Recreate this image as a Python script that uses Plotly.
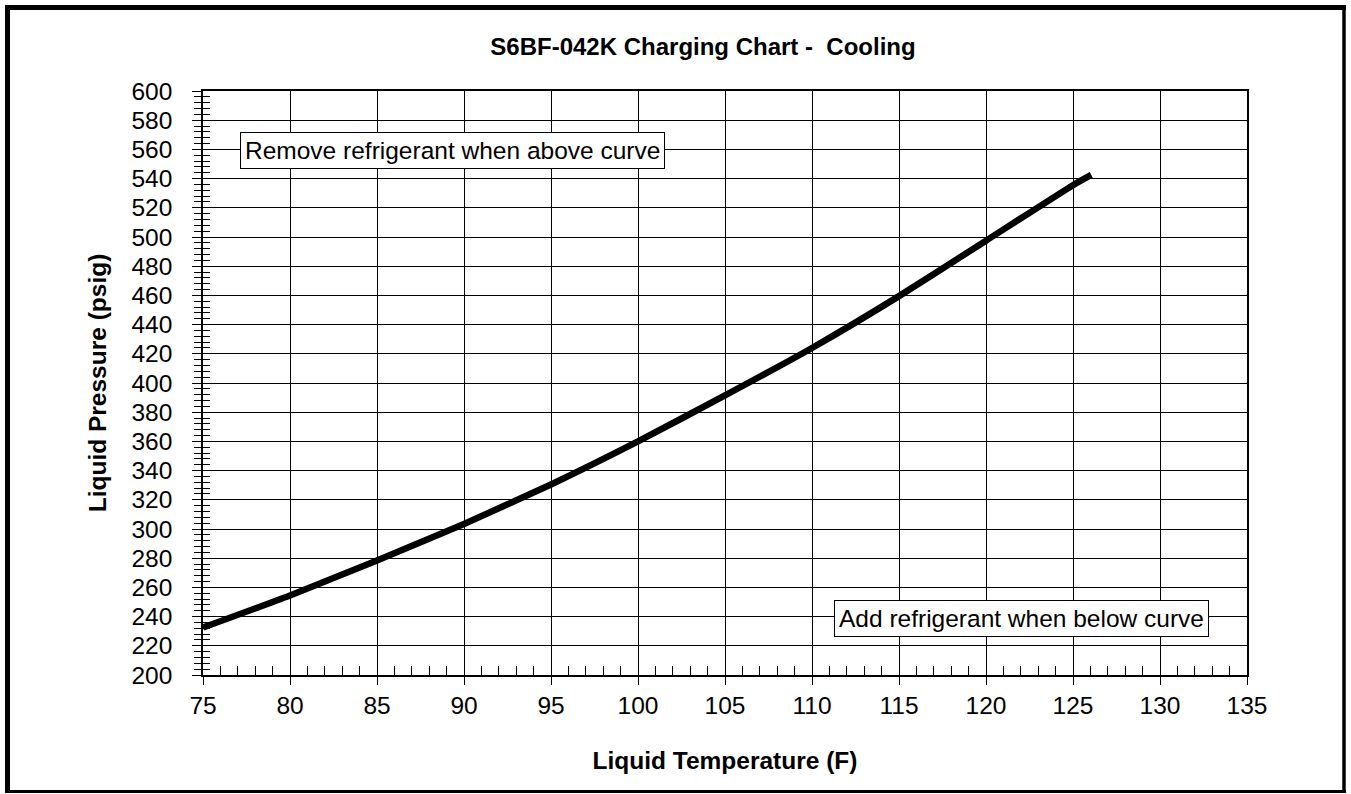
import plotly.graph_objects as go

# ---- data ----
temps = [75, 80, 85, 90, 95, 100, 105, 110, 115, 120, 125, 126.05]
pressures = [232.5, 254.5, 278.5, 303.5, 330.5, 360, 391.5, 424, 459.5, 497.5, 535.5, 542.5]

x_ticks = list(range(75, 136, 5))
y_ticks = list(range(200, 601, 20))

title_text = "S6BF-042K Charging Chart -  Cooling"
x_title = "Liquid Temperature (F)"
y_title = "Liquid Pressure (psig)"
note_above = "Remove refrigerant when above curve"
note_below = "Add refrigerant when below curve"

# ---- layout geometry ----
W, H = 1351, 794
ML, MR, MT, MB = 203, 104, 91, 119
PW, PH = W - ML - MR, H - MT - MB
FONT = "Liberation Sans, Arial, Helvetica, sans-serif"


def px(xpix):
    return (xpix - ML) / PW


def py(ypix):
    return (H - MB - ypix) / PH


fig = go.Figure()
fig.add_trace(go.Scatter(
    x=temps, y=pressures, mode="lines",
    line=dict(color="black", width=6.5, shape="spline", smoothing=0.5),
    showlegend=False, hoverinfo="x+y",
))
# invisible copy so the overlay axes (cross ticks) are drawn
fig.add_trace(go.Scatter(
    x=temps, y=pressures, mode="lines", xaxis="x2", yaxis="y2",
    line=dict(width=0), opacity=0, showlegend=False, hoverinfo="skip",
))

axis_common = dict(showline=True, linecolor="black", linewidth=1.5, mirror=True,
                   zeroline=False, tickcolor="black", tickwidth=1.2)

fig.update_layout(
    width=W, height=H,
    margin=dict(l=ML, r=MR, t=MT, b=MB),
    paper_bgcolor="white", plot_bgcolor="white",
    font=dict(family=FONT, color="black", size=24),
    title=dict(text="<b>" + title_text + "</b>", font=dict(size=24, family=FONT),
               x=703 / W, xref="container", xanchor="center",
               y=1 - 47 / H, yref="container", yanchor="middle"),
    xaxis=dict(
        range=[75, 135], tickmode="array", tickvals=x_ticks,
        ticktext=[str(v) for v in x_ticks],
        ticks="outside", ticklen=8,
        showgrid=True, gridcolor="black", gridwidth=1,
        tickfont=dict(size=24.5),
        title=dict(text="<b>" + x_title + "</b>", font=dict(size=24.5), standoff=34),
        **axis_common,
    ),
    yaxis=dict(
        range=[200, 600], tickmode="array", tickvals=y_ticks,
        ticktext=[str(v) for v in y_ticks],
        ticks="outside", ticklen=9,
        minor=dict(dtick=4, tick0=200, ticks="outside", ticklen=7,
                   tickcolor="black", showgrid=False),
        showgrid=True, gridcolor="black", gridwidth=1,
        tickfont=dict(size=24.5), ticklabelstandoff=15,
        title=dict(text="<b>" + y_title + "</b>", font=dict(size=24.5), standoff=18),
        **axis_common,
    ),
    xaxis2=dict(
        range=[75, 135], overlaying="x", anchor="y2", side="bottom",
        tickmode="array", tickvals=x_ticks, showticklabels=False,
        ticks="inside", ticklen=8, tickcolor="black", tickwidth=1.2,
        minor=dict(dtick=1, tick0=75, ticks="inside", ticklen=9,
                   tickcolor="black", showgrid=False),
        showgrid=False, zeroline=False, showline=False,
    ),
    yaxis2=dict(
        range=[200, 600], overlaying="y", anchor="x2", side="left",
        tickmode="array", tickvals=y_ticks, showticklabels=False,
        ticks="inside", ticklen=8, tickcolor="black", tickwidth=1.2,
        minor=dict(dtick=4, tick0=200, ticks="inside", ticklen=7,
                   tickcolor="black", showgrid=False),
        showgrid=False, zeroline=False, showline=False,
    ),
)

fig.add_annotation(
    x=77.1, y=559, xref="x", yref="y", xanchor="left", yanchor="middle",
    text=note_above, showarrow=False, font=dict(size=24.5),
    bgcolor="white", bordercolor="black", borderwidth=1, borderpad=4,
)
fig.add_annotation(
    x=132.8, y=239, xref="x", yref="y", xanchor="right", yanchor="middle",
    text=note_below, showarrow=False, font=dict(size=24.5),
    bgcolor="white", bordercolor="black", borderwidth=1, borderpad=4,
)

# outer frame of the picture
frame = [
    (7.5, 5, 7.5, 792, 5),
    (5, 7.5, 1346, 7.5, 5),
    (1344, 5, 1344, 792, 3.5),
    (5, 791.5, 1346, 791.5, 3),
]
for x0, y0, x1, y1, w in frame:
    fig.add_shape(type="line", xref="paper", yref="paper",
                  x0=px(x0), y0=py(y0), x1=px(x1), y1=py(y1),
                  line=dict(color="black", width=w), layer="above")

fig.write_html("out.html",
               config={"displayModeBar": False},
               post_script="document.body.style.margin='0';document.body.style.overflow='hidden';")
